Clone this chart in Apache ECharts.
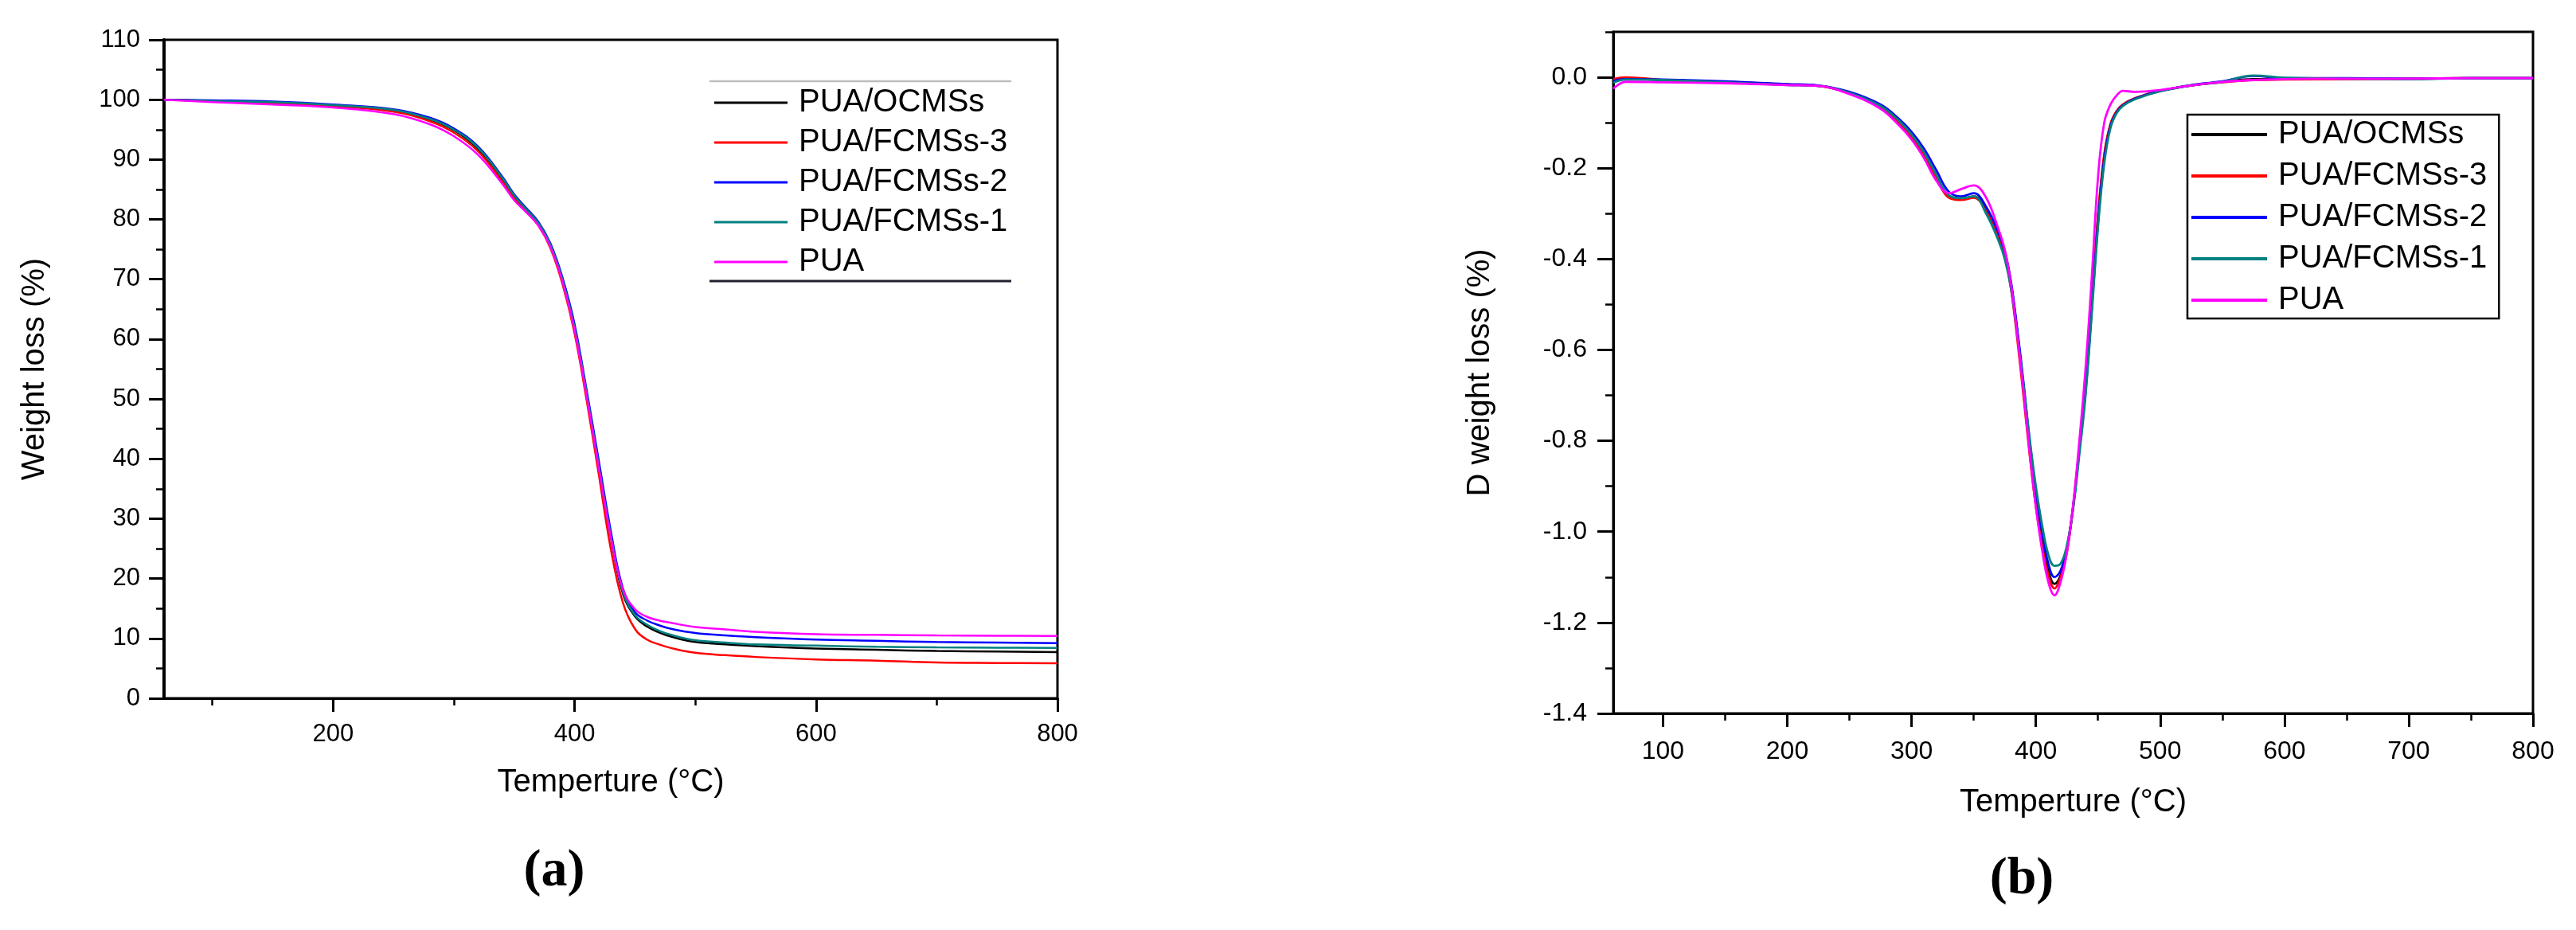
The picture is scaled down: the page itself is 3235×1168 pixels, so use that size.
<!DOCTYPE html>
<html>
<head>
<meta charset="utf-8">
<script src="https://cdn.jsdelivr.net/npm/echarts@6.0.0/dist/echarts.min.js"></script>
<style>
html,body{margin:0;padding:0;background:#fff;}
#chart{width:3235px;height:1168px;}
</style>
</head>
<body>
<div id="chart"></div>
<script>
// ---------- DATA ----------
const seriesNames = ['PUA/OCMSs', 'PUA/FCMSs-3', 'PUA/FCMSs-2', 'PUA/FCMSs-1', 'PUA'];
const seriesColors = ['#000000', '#ff0000', '#0000ff', '#008080', '#ff00ff'];

// (a) TGA: temperature (°C) and weight loss (%)
const tgaT = [60, 100, 150, 200, 250, 280, 300, 320, 340, 350, 360, 370, 380, 390, 400, 410, 420, 430, 440, 450, 460, 470, 480, 500, 525, 550, 600, 650, 700, 750, 800];
const tgaOCMSs = [100, 99.8, 99.5, 99.0, 98.2, 96.7, 94.9, 91.8, 86.8, 83.8, 81.6, 79.3, 75.6, 69.8, 61.8, 50.8, 38.8, 27.0, 17.5, 13.7, 12.0, 11.0, 10.3, 9.4, 9.0, 8.7, 8.3, 8.1, 7.9, 7.8, 7.7];
const tgaFCMSs3 = [100, 99.8, 99.4, 98.9, 98.0, 96.4, 94.5, 91.4, 86.4, 83.5, 81.3, 79.0, 75.2, 69.2, 61.0, 49.8, 37.5, 25.0, 16.0, 11.6, 9.8, 9.0, 8.4, 7.6, 7.2, 6.9, 6.5, 6.3, 6.0, 5.9, 5.85];
const tgaFCMSs2 = [100, 99.9, 99.7, 99.2, 98.4, 97.0, 95.2, 92.2, 87.2, 84.2, 81.9, 79.6, 76.0, 70.3, 62.5, 51.5, 39.8, 28.0, 18.4, 14.4, 13.0, 12.2, 11.6, 10.9, 10.5, 10.2, 9.8, 9.6, 9.4, 9.3, 9.2];
const tgaFCMSs1 = [100, 99.8, 99.6, 99.1, 98.3, 96.8, 95.0, 92.0, 87.0, 84.0, 81.7, 79.4, 75.8, 70.0, 62.0, 51.0, 39.0, 27.3, 17.8, 13.9, 12.3, 11.3, 10.6, 9.7, 9.3, 9.0, 8.8, 8.6, 8.5, 8.45, 8.4];
const tgaPUA = [100, 99.6, 99.2, 98.7, 97.6, 95.9, 93.9, 90.8, 86.0, 83.2, 81.2, 79.0, 75.4, 69.6, 61.5, 50.5, 38.6, 27.0, 18.2, 14.9, 13.6, 13.0, 12.6, 11.9, 11.5, 11.1, 10.7, 10.6, 10.5, 10.45, 10.4];

// (b) DTG: temperature (°C) and derivative weight loss (%)
const dtgT = [60, 70, 100, 150, 200, 225, 250, 275, 290, 300, 310, 320, 330, 340, 350, 360, 370, 375, 380, 385, 390, 395, 400, 405, 410, 415, 420, 425, 430, 435, 440, 445, 450, 455, 460, 465, 470, 480, 500, 525, 550, 575, 600, 650, 700, 750, 800];
const dtgOCMSs = [-0.005, -0.003, -0.006, -0.010, -0.016, -0.019, -0.034, -0.064, -0.098, -0.128, -0.168, -0.218, -0.262, -0.268, -0.262, -0.290, -0.345, -0.385, -0.455, -0.56, -0.68, -0.81, -0.925, -1.015, -1.085, -1.115, -1.095, -1.04, -0.945, -0.815, -0.68, -0.50, -0.31, -0.175, -0.105, -0.075, -0.060, -0.046, -0.030, -0.018, -0.010, -0.004, -0.004, -0.003, -0.003, -0.002, -0.002];
const dtgFCMSs3 = [-0.004, 0.0, -0.006, -0.010, -0.016, -0.019, -0.035, -0.066, -0.102, -0.132, -0.172, -0.222, -0.265, -0.270, -0.265, -0.295, -0.350, -0.392, -0.465, -0.575, -0.70, -0.83, -0.945, -1.03, -1.095, -1.125, -1.10, -1.045, -0.945, -0.815, -0.675, -0.495, -0.305, -0.17, -0.103, -0.074, -0.060, -0.046, -0.030, -0.018, -0.011, -0.006, -0.005, -0.004, -0.003, -0.002, -0.002];
const dtgFCMSs2 = [-0.008, -0.004, -0.005, -0.009, -0.015, -0.018, -0.032, -0.060, -0.092, -0.120, -0.157, -0.205, -0.252, -0.262, -0.255, -0.285, -0.342, -0.382, -0.45, -0.553, -0.67, -0.80, -0.91, -1.00, -1.07, -1.10, -1.085, -1.035, -0.945, -0.82, -0.69, -0.51, -0.32, -0.18, -0.108, -0.077, -0.062, -0.047, -0.030, -0.017, -0.009, 0.003, -0.002, -0.002, -0.003, -0.002, -0.002];
const dtgFCMSs1 = [-0.012, -0.005, -0.006, -0.011, -0.017, -0.019, -0.034, -0.063, -0.096, -0.126, -0.165, -0.215, -0.260, -0.266, -0.262, -0.300, -0.360, -0.400, -0.465, -0.565, -0.675, -0.795, -0.90, -0.985, -1.05, -1.075, -1.07, -1.03, -0.95, -0.83, -0.70, -0.52, -0.33, -0.19, -0.112, -0.079, -0.063, -0.048, -0.031, -0.018, -0.010, 0.004, -0.001, -0.003, -0.004, -0.002, -0.002];
const dtgPUA = [-0.025, -0.010, -0.011, -0.013, -0.017, -0.019, -0.037, -0.069, -0.106, -0.137, -0.178, -0.228, -0.255, -0.246, -0.238, -0.265, -0.335, -0.38, -0.455, -0.565, -0.69, -0.825, -0.945, -1.04, -1.11, -1.14, -1.11, -1.045, -0.94, -0.80, -0.64, -0.44, -0.22, -0.10, -0.06, -0.04, -0.03, -0.032, -0.028, -0.018, -0.010, -0.006, -0.004, -0.003, -0.003, -0.002, -0.002];

// tick values
const xMajorA = [200, 400, 600, 800];
const xMinorA = [100, 300, 500, 700];
const yMajorA = [0, 10, 20, 30, 40, 50, 60, 70, 80, 90, 100, 110];
const yMinorA = [5, 15, 25, 35, 45, 55, 65, 75, 85, 95, 105];
const xMajorB = [100, 200, 300, 400, 500, 600, 700, 800];
const xMinorB = [150, 250, 350, 450, 550, 650, 750];
const yMajorB = [-1.4, -1.2, -1.0, -0.8, -0.6, -0.4, -0.2, 0.0];
const yMinorB = [-1.3, -1.1, -0.9, -0.7, -0.5, -0.3, -0.1, 0.1];

// ---------- CHART ----------
const FONT = '"Liberation Sans", Arial, sans-serif';
const tgaSets = [tgaOCMSs, tgaFCMSs3, tgaFCMSs2, tgaFCMSs1, tgaPUA];
const dtgSets = [dtgOCMSs, dtgFCMSs3, dtgFCMSs2, dtgFCMSs1, dtgPUA];
const zip = (xs, ys) => xs.map((x, i) => [x, ys[i]]);

function majorAxis(o) {
  return {
    gridIndex: o.grid, type: 'value', min: o.min, max: o.max, position: o.pos,
    axisLine: { show: true, onZero: false, lineStyle: { color: '#000', width: o.lw || 3 } },
    axisTick: { show: true, inside: false, customValues: o.ticks, length: o.tickLen, lineStyle: { color: '#000', width: 3 } },
    minorTick: { show: false },
    axisLabel: { show: true, customValues: o.ticks, color: '#000', fontSize: o.fs, fontFamily: FONT, margin: o.margin, formatter: o.fmt },
    splitLine: { show: false },
    name: o.name, nameLocation: 'middle', nameGap: o.nameGap,
    nameTextStyle: { color: '#000', fontSize: 40, fontFamily: FONT }
  };
}
function minorAxis(o) {
  return {
    gridIndex: o.grid, type: 'value', min: o.min, max: o.max, position: o.pos,
    axisLine: { show: false, onZero: false },
    axisTick: { show: true, inside: false, customValues: o.ticks, length: o.tickLen, lineStyle: { color: '#000', width: 2.5 } },
    minorTick: { show: false },
    axisLabel: { show: false },
    splitLine: { show: false }
  };
}

const xAxes = [
  majorAxis({ grid: 0, min: 60, max: 800, pos: 'bottom', ticks: xMajorA, tickLen: 17, fs: 31, margin: 30, name: 'Temperture (°C)', nameGap: 86 }),
  minorAxis({ grid: 0, min: 60, max: 800, pos: 'bottom', ticks: xMinorA, tickLen: 9 }),
  majorAxis({ grid: 1, min: 60, max: 800, pos: 'bottom', ticks: xMajorB, tickLen: 17, fs: 32, margin: 32, name: 'Temperture (°C)', nameGap: 92 }),
  minorAxis({ grid: 1, min: 60, max: 800, pos: 'bottom', ticks: xMinorB, tickLen: 9 })
];
const yAxes = [
  majorAxis({ grid: 0, min: 0, max: 110, pos: 'left', ticks: yMajorA, tickLen: 19, fs: 31, margin: 30, lw: 4, name: 'Weight loss (%)', nameGap: 142 }),
  minorAxis({ grid: 0, min: 0, max: 110, pos: 'left', ticks: yMinorA, tickLen: 10 }),
  majorAxis({ grid: 1, min: -1.4, max: 0.1, pos: 'left', ticks: yMajorB, tickLen: 20, fs: 32, margin: 33, name: 'D weight loss (%)', nameGap: 147, fmt: v => Number(v).toFixed(1) }),
  minorAxis({ grid: 1, min: -1.4, max: 0.1, pos: 'left', ticks: yMinorB, tickLen: 10 })
];

const series = [];
seriesNames.forEach((n, i) => {
  series.push({
    name: n, type: 'line', xAxisIndex: 0, yAxisIndex: 0,
    data: zip(tgaT, tgaSets[i]), showSymbol: false, symbol: 'none',
    smooth: 0.4, color: seriesColors[i],
    lineStyle: { color: seriesColors[i], width: 2.5 }, z: 2 + i
  });
});
seriesNames.forEach((n, i) => {
  series.push({
    name: n, type: 'line', xAxisIndex: 2, yAxisIndex: 2,
    data: zip(dtgT, dtgSets[i]), showSymbol: false, symbol: 'none',
    smooth: 0.4, color: seriesColors[i],
    lineStyle: { color: seriesColors[i], width: 2.8 }, z: 2 + i
  });
});

const legendFmt = name => '{t|' + name + '}';
const chart = echarts.init(document.getElementById('chart'), null, { renderer: 'canvas' });
chart.setOption({
  animation: false,
  backgroundColor: '#ffffff',
  grid: [
    { left: 206, top: 50, width: 1122, height: 827, show: true, borderColor: '#000', borderWidth: 3, backgroundColor: 'transparent', containLabel: false, outerBoundsMode: 'none' },
    { left: 2026, top: 40, width: 1155, height: 856, show: true, borderColor: '#000', borderWidth: 3, backgroundColor: 'transparent', containLabel: false, outerBoundsMode: 'none' }
  ],
  xAxis: xAxes,
  yAxis: yAxes,
  legend: [
    {
      data: seriesNames, orient: 'vertical', left: 897, top: 109, padding: 0,
      itemWidth: 92, itemHeight: 3, itemGap: 10, icon: 'rect', selectedMode: false,
      formatter: legendFmt,
      textStyle: { color: '#000', fontSize: 40, fontFamily: FONT, lineHeight: 40,
        rich: { t: { fontSize: 40, fontFamily: FONT, color: '#000', lineHeight: 40, padding: [0, 0, 0, 9] } } }
    },
    {
      data: seriesNames, orient: 'vertical', left: 2747, top: 144, padding: [4, 15, 2, 5],
      itemWidth: 95, itemHeight: 4, itemGap: 10, icon: 'rect', selectedMode: false,
      borderColor: '#000', borderWidth: 2.5, backgroundColor: 'transparent',
      formatter: legendFmt,
      textStyle: { color: '#000', fontSize: 40, fontFamily: FONT, lineHeight: 42,
        rich: { t: { fontSize: 40, fontFamily: FONT, color: '#000', lineHeight: 42, padding: [0, 0, 0, 9] } } }
    }
  ],
  title: [
    {
      text: '{p|(}{b|a}{p|)}', left: 691, top: 1054, textAlign: 'center',
      textStyle: { rich: {
        p: { fontFamily: '"Liberation Serif", "Times New Roman", serif', fontSize: 66, color: '#000', lineHeight: 72 },
        b: { fontFamily: '"Liberation Serif", "Times New Roman", serif', fontSize: 66, fontWeight: 'bold', color: '#000', lineHeight: 72 }
      } }
    },
    {
      text: '{p|(}{b|b}{p|)}', left: 2534, top: 1064, textAlign: 'center',
      textStyle: { rich: {
        p: { fontFamily: '"Liberation Serif", "Times New Roman", serif', fontSize: 66, color: '#000', lineHeight: 72 },
        b: { fontFamily: '"Liberation Serif", "Times New Roman", serif', fontSize: 66, fontWeight: 'bold', color: '#000', lineHeight: 72 }
      } }
    }
  ],
  graphic: [
    { type: 'line', shape: { x1: 891, y1: 102, x2: 1270, y2: 102 }, style: { stroke: '#bdbdbd', lineWidth: 2.5 }, silent: true },
    { type: 'line', shape: { x1: 891, y1: 353, x2: 1270, y2: 353 }, style: { stroke: '#22222e', lineWidth: 3 }, silent: true }
  ],
  series: series
});
</script>
</body>
</html>
